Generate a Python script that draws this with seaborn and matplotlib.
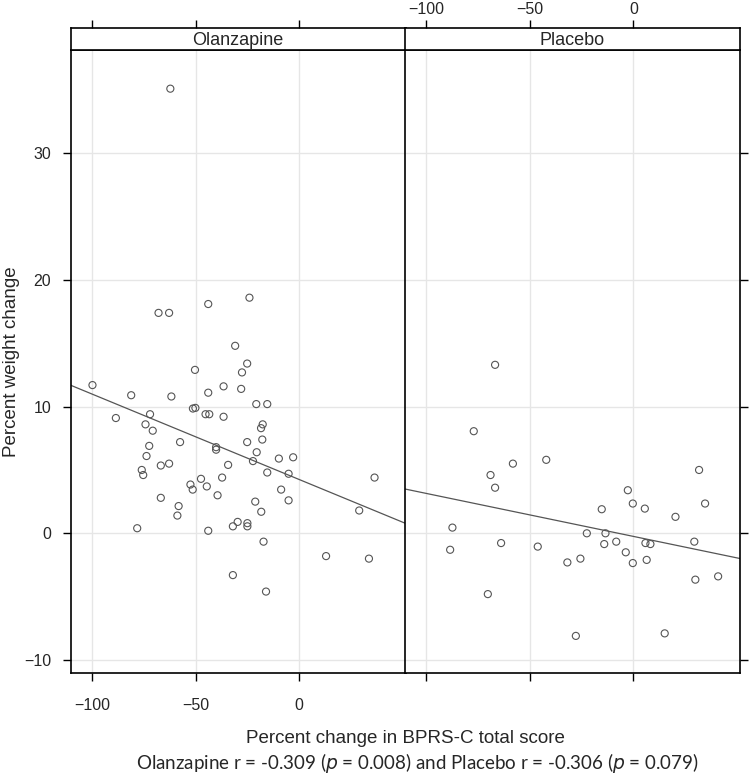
import numpy as np
import pandas as pd
import matplotlib.pyplot as plt
import seaborn as sns

# Percent change in BPRS-C total score (x) and percent weight change (y)
olz_bprs = [-62.2, -24.0, -43.9, -67.9, -62.8, -30.9, -25.1, -27.6, -50.3, -36.5,
            -28.0, -43.9, -99.8, -81.1, -61.7, -20.7, -15.4, -51.3, -50.1, -45.2,
            -43.4, -36.5, -72.0, -88.5, -74.2, -17.6, -18.4, -70.7, -17.8, -57.5,
            -25.1, -72.4, -40.1, -40.1, -73.7, -20.5, -22.3, -9.8, -2.9, -34.3,
            -62.8, -66.8, -76.0, -75.3, -15.4, -5.1, 36.4, -47.4, -37.2, -52.5,
            -51.4, -44.6, -8.7, -39.4, -66.8, -21.2, -5.1, -58.2, -58.8, -18.3,
            29.0, -78.2, -43.9, -32.0, -29.7, -25.0, -25.0, -17.2, 13.0, 33.7,
            -32.0, -16.0]
olz_weight = [35.1, 18.6, 18.1, 17.4, 17.4, 14.8, 13.4, 12.7, 12.9, 11.6,
              11.4, 11.1, 11.7, 10.9, 10.8, 10.2, 10.2, 9.85, 9.9, 9.4,
              9.4, 9.2, 9.4, 9.1, 8.6, 8.6, 8.3, 8.1, 7.4, 7.2,
              7.2, 6.9, 6.8, 6.6, 6.1, 6.4, 5.7, 5.9, 6.0, 5.4,
              5.5, 5.35, 5.0, 4.6, 4.8, 4.7, 4.4, 4.3, 4.4, 3.85,
              3.45, 3.7, 3.45, 3.0, 2.8, 2.5, 2.6, 2.15, 1.4, 1.7,
              1.8, 0.4, 0.2, 0.55, 0.9, 0.8, 0.55, -0.66, -1.8, -2.0,
              -3.3, -4.6]

plc_bprs = [-66.8, -77.1, -58.2, -42.1, -69.0, -66.8, -2.7, 31.7, -0.3, 5.5,
            -15.3, 34.6, 20.3, -87.4, -22.5, -13.5, -14.1, -8.3, 5.8, 8.2,
            29.4, -63.9, -88.5, -46.2, -3.7, -25.6, -31.9, 6.4, -0.3, 29.9,
            40.9, -70.3, -27.8, 15.1]
plc_weight = [13.3, 8.06, 5.5, 5.8, 4.6, 3.6, 3.4, 5.0, 2.35, 1.95,
              1.9, 2.35, 1.3, 0.45, 0.0, 0.0, -0.85, -0.66, -0.77, -0.85,
              -0.66, -0.77, -1.3, -1.05, -1.5, -2.0, -2.3, -2.1, -2.35, -3.66,
              -3.4, -4.8, -8.1, -7.9]

groups = ['Olanzapine', 'Placebo']
x_ticks = [-100, -50, 0]
y_ticks = [-10, 0, 10, 20, 30]

df = pd.concat([
    pd.DataFrame({'bprs': olz_bprs, 'weight': olz_weight, 'group': groups[0]}),
    pd.DataFrame({'bprs': plc_bprs, 'weight': plc_weight, 'group': groups[1]}),
])

sns.set_style('white')
plt.rcParams['font.family'] = ['Liberation Sans Narrow', 'Liberation Sans', 'DejaVu Sans']

fig = plt.figure(figsize=(7.5, 7.77), dpi=100)

xlim = (-110.3, 51.4)
ylim = (-11.05, 38.15)
left = [0.0943, 0.54]
w = 0.4465
bottom, h = 0.1335, 0.8021
strip_h = 0.0284

for i, g in enumerate(groups):
    ax = fig.add_axes([left[i], bottom, w, h])
    sub = df[df['group'] == g]
    ax.set_xlim(xlim)
    ax.set_ylim(ylim)
    for v in x_ticks:
        ax.axvline(v, color='#e6e6e6', lw=1, zorder=0)
    for v in y_ticks:
        ax.axhline(v, color='#e6e6e6', lw=1, zorder=0)
    sns.scatterplot(data=sub, x='bprs', y='weight', ax=ax, marker='o', s=26,
                    facecolor='none', edgecolor='#555555', linewidth=0.8, zorder=3)
    sns.regplot(data=sub, x='bprs', y='weight', ax=ax, scatter=False, ci=None,
                truncate=False, color='#555555', line_kws={'lw': 0.9})
    ax.set_xlim(xlim)
    ax.set_ylim(ylim)
    ax.set_xlabel('')
    ax.set_ylabel('')
    ax.set_xticks(x_ticks)
    ax.set_yticks(y_ticks)
    for sp in ax.spines.values():
        sp.set_color('black')
        sp.set_linewidth(1.2)
    ax.tick_params(direction='out', length=6, width=1, color='black',
                   labelsize=11.5, pad=8)
    ax.tick_params(axis='x', pad=12)
    if i == 0:
        ax.tick_params(axis='x', bottom=True, labelbottom=True)
        ax.tick_params(axis='y', left=True, labelleft=True, right=False)
    else:
        ax.tick_params(axis='x', bottom=True, labelbottom=False)
        ax.tick_params(axis='y', left=False, labelleft=False, right=True, labelright=False)

    # strip on top
    sax = fig.add_axes([left[i], bottom + h, w, strip_h])
    sax.set_xlim(xlim)
    sax.set_ylim(0, 1)
    sax.set_yticks([])
    sax.set_xticks(x_ticks)
    sax.xaxis.tick_top()
    sax.tick_params(axis='x', direction='out', length=6, width=1, color='black',
                    labelsize=11.5, pad=2, labeltop=(i == 1), bottom=False, labelbottom=False)
    for sp in sax.spines.values():
        sp.set_color('black')
        sp.set_linewidth(1.2)
    sax.text(0.5, 0.45, g, transform=sax.transAxes, ha='center', va='center', fontsize=13)

fig.text(0.54, 0.05, 'Percent change in BPRS-C total score', ha='center', va='center', fontsize=13.5)
fig.text(0.016, 0.535, 'Percent weight change', rotation=90, ha='center', va='center', fontsize=13.5)
fig.text(0.557, 0.018,
         'Olanzapine r = -0.309 ($\\it{p}$ = 0.008) and Placebo r = -0.306 ($\\it{p}$ = 0.079)',
         ha='center', va='center', fontsize=13.5, family=['Lato', 'DejaVu Sans'])

fig.savefig('out.png', dpi=100)
